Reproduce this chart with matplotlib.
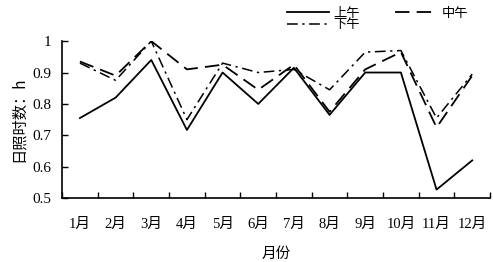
import matplotlib
matplotlib.use("Agg")
import matplotlib.pyplot as plt
import numpy as np

plt.rcParams['font.family'] = ['Liberation Serif', 'Noto Sans CJK SC']

months = ["1月", "2月", "3月", "4月", "5月", "6月", "7月", "8月", "9月", "10月", "11月", "12月"]
morning = [0.755, 0.82, 0.94, 0.717, 0.90, 0.80, 0.915, 0.765, 0.90, 0.90, 0.527, 0.62]
noon = [0.935, 0.89, 1.0, 0.91, 0.925, 0.845, 0.925, 0.775, 0.91, 0.965, 0.725, 0.89]
afternoon = [0.93, 0.875, 1.0, 0.75, 0.93, 0.90, 0.91, 0.845, 0.965, 0.97, 0.755, 0.895]

fig = plt.figure(figsize=(4.93, 2.62), dpi=100)
ax = fig.add_axes([0.126, 0.244, 0.868, 0.599])

x = np.arange(1, 13)
l1, = ax.plot(x, morning, color="black", lw=1.3, label="上午")
l2, = ax.plot(x, noon, color="black", lw=1.3, dashes=(8, 4), label="中午")
l3, = ax.plot(x, afternoon, color="black", lw=1.1, dashes=(7, 3, 1.5, 3), label="下午")

ax.set_xlim(0.5, 12.5)
ax.set_ylim(0.5, 1.0)
ax.set_xticks(x)
ax.set_xticklabels(months, fontsize=10.5)
ax.set_xticks(np.arange(0.5, 13, 1), minor=True)
ax.tick_params(axis="x", which="major", length=0, pad=14)
ax.tick_params(axis="x", which="minor", length=4, direction="in", width=1)
ax.set_yticks([0.5, 0.6, 0.7, 0.8, 0.9, 1.0])
ax.set_yticklabels(["0.5", "0.6", "0.7", "0.8", "0.9", "1"], fontsize=11)
ax.tick_params(axis="y", length=4, direction="in", width=1, pad=8)

for s in ["top", "right"]:
    ax.spines[s].set_visible(False)
ax.spines["left"].set_linewidth(1.2)
ax.spines["bottom"].set_linewidth(1.2)

ax.set_xlabel("月份", fontsize=10.5, labelpad=12)
ax.set_ylabel("日照时数：h", fontsize=11, family=["Noto Sans CJK SC", "DejaVu Sans"])

ax.legend([l1, l3, l2], ["上午", "下午", "中午"], ncol=2, loc="upper right",
          bbox_to_anchor=(0.967, 1.27), frameon=False,
          handlelength=3.2, columnspacing=2.7, labelspacing=-0.1,
          handletextpad=0.3, borderpad=0.1,
          prop={"family": ["Noto Sans CJK SC"], "size": 9.5})

fig.savefig("out.png", dpi=100)
